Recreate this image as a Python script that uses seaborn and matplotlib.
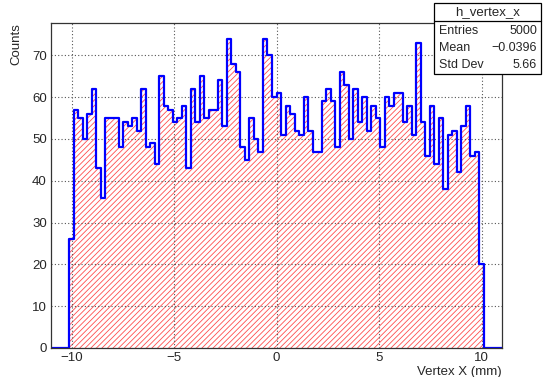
import numpy as np
import pandas as pd
import matplotlib
matplotlib.use("Agg")
import matplotlib.pyplot as plt
import seaborn as sns
from matplotlib.patches import Rectangle
from matplotlib.lines import Line2D
from matplotlib.ticker import MultipleLocator

# ---- data ----
x_min, x_max, n_bins = -11.0, 11.0, 100
counts = [0, 0, 0, 0, 26,
          57, 55, 50, 56, 62, 43, 36, 55, 55, 55, 48, 54, 53, 55, 52, 62, 48, 49, 44,
          65, 58, 57, 54, 55, 58, 43, 62, 54, 65, 55, 57, 57, 64, 53, 74, 68, 66,
          48, 45, 55, 50, 47, 74, 70, 60, 61, 51, 58, 56, 52, 51, 60, 52, 47, 47, 59,
          62, 59, 48, 66, 63, 50, 62, 54, 60, 52, 58, 55, 48, 60, 58, 61, 61, 54,
          58, 51, 73, 54, 46, 58, 44, 55, 38, 51, 52, 42, 53, 58, 46, 47, 20,
          0, 0, 0, 0]
hist_name = "h_vertex_x"
stat_labels = ["Entries", "Mean", "Std Dev"]
stat_values = ["5000", "\u22120.0396", "5.66"]
x_title = "Vertex X (mm)"
y_title = "Counts"

edges = np.linspace(x_min, x_max, n_bins + 1)
centers = 0.5 * (edges[:-1] + edges[1:])
df = pd.DataFrame({"x": centers, "w": counts})

sns.set_style("white")
plt.rcParams["font.family"] = ["Liberation Sans", "DejaVu Sans"]
plt.rcParams["hatch.color"] = "#ff4d4d"
plt.rcParams["hatch.linewidth"] = 0.6
plt.rcParams["axes.unicode_minus"] = True

W, H = 547, 377
fig = plt.figure(figsize=(W / 100, H / 100), dpi=100)
fig.patch.set_facecolor("white")
ax = fig.add_axes([51 / W, 1 - 348 / H, 451 / W, (348 - 23.2) / H])

# hatched fill
ax.stairs(np.asarray(counts, float), edges, fill=True, facecolor="none",
          edgecolor="#ff4d4d", linewidth=0, hatch="//////", zorder=1)
# blue outline via seaborn
sns.histplot(data=df, x="x", weights="w", bins=n_bins, binrange=(x_min, x_max),
             element="step", fill=False, color="#0000ff", linewidth=1.6, ax=ax, zorder=2)

ax.set_xlim(x_min, x_max)
ax.set_ylim(0, max(counts) * 1.05)

ax.xaxis.set_major_locator(MultipleLocator(5))
ax.xaxis.set_minor_locator(MultipleLocator(1))
ax.yaxis.set_major_locator(MultipleLocator(10))
ax.yaxis.set_minor_locator(MultipleLocator(2))
ax.tick_params(which="both", direction="in", top=False, right=False,
               labelsize=9.5, pad=3, color="#333333", width=0.8)
ax.tick_params(which="major", length=6.5)
ax.tick_params(which="minor", length=3.3)

ax.set_axisbelow("line")
ax.grid(True, which="major", linestyle=(0, (1, 2)), color="#555555", linewidth=0.8)
for s in ax.spines.values():
    s.set_color("#333333")
    s.set_linewidth(0.9)

ax.set_xlabel(x_title, loc="right", fontsize=9.5)
ax.xaxis.set_label_coords(1.0, -0.056)
ax.set_ylabel(y_title, loc="top", fontsize=9.5)
ax.yaxis.set_label_coords(-0.064, 1.0)

# stats box
def fx(px):
    return px / W

def fy(py):
    return 1 - py / H

bl, br, bt, bb, bsep = 434, 541, 3, 74, 21
fig.add_artist(Rectangle((fx(bl), fy(bb)), fx(br) - fx(bl), fy(bt) - fy(bb),
                         transform=fig.transFigure, facecolor="white",
                         edgecolor="black", linewidth=0.9, zorder=10))
fig.add_artist(Line2D([fx(bl), fx(br)], [fy(bsep), fy(bsep)],
                      transform=fig.transFigure, color="black", linewidth=0.9, zorder=11))
fig.text(fx((bl + br) / 2), fy((bt + bsep) / 2), hist_name, ha="center", va="center",
         fontsize=9.5, zorder=12)
row_y = [31, 48, 65]
for lab, val, ry in zip(stat_labels, stat_values, row_y):
    fig.text(fx(bl + 5), fy(ry), lab, ha="left", va="center", fontsize=9, zorder=12)
    fig.text(fx(br - 4), fy(ry), val, ha="right", va="center", fontsize=9, zorder=12)

fig.savefig("out.png", dpi=100)
